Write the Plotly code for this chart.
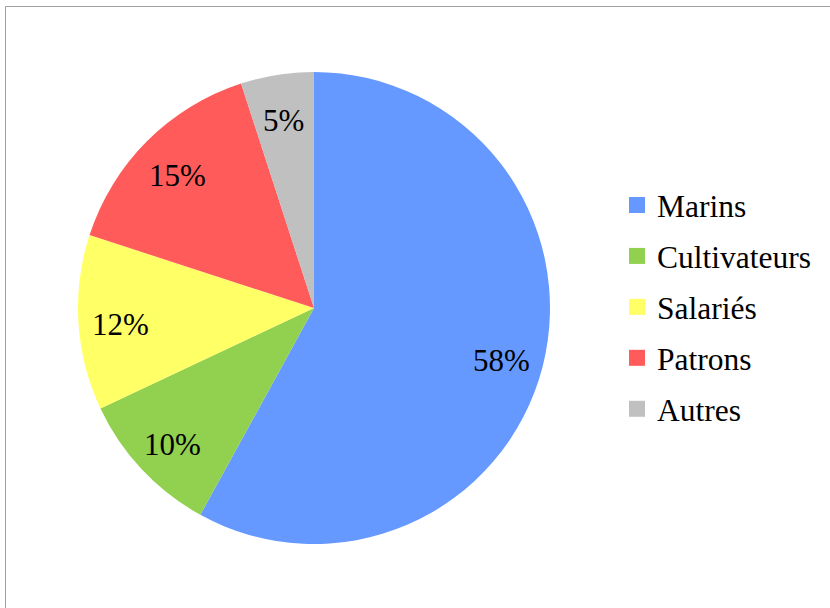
import math
import plotly.graph_objects as go

categories = ["Marins", "Cultivateurs", "Salariés", "Patrons", "Autres"]
values = [58, 10, 12, 15, 5]
colors = ["#6699FF", "#92D050", "#FFFF66", "#FF5B5B", "#C0C0C0"]

FONT = "Liberation Serif, Times New Roman, Times, serif"
W, H = 830, 608
CX, CY, R = 314, 308, 236  # pie centre/radius in pixels

fig = go.Figure()
fig.add_trace(go.Pie(
    labels=categories, values=values, sort=False, direction="clockwise",
    rotation=0, marker=dict(colors=colors, line=dict(width=0)),
    textinfo="none", showlegend=False, hoverinfo="label+percent",
    domain=dict(x=[(CX - R) / W, (CX + R) / W],
                y=[(H - CY - R) / H, (H - CY + R) / H]),
))

# percentage labels placed at mid-angle of each slice (Excel-like)
total = sum(values)
cum = 0
for v in values:
    mid = (cum + v / 2) / total * 2 * math.pi
    cum += v
    r = 0.82 * R
    px = CX + r * math.sin(mid)
    py = CY - r * math.cos(mid)
    fig.add_annotation(x=px / W, y=1 - py / H, xref="paper", yref="paper",
                       text=f"{round(v / total * 100)}%", showarrow=False,
                       font=dict(family=FONT, size=31, color="black"),
                       xanchor="center", yanchor="middle", yshift=-4)

for name, col in zip(categories, colors):
    fig.add_trace(go.Scatter(
        x=[None], y=[None], mode="markers", name=name, legendgroup=name,
        marker=dict(symbol="square", size=16, color=col),
    ))

fig.add_shape(type="rect", xref="paper", yref="paper",
              x0=5.5 / W, x1=1.2, y0=-0.2, y1=(H - 6.5) / H,
              line=dict(color="#A0A0A0", width=1), fillcolor="rgba(0,0,0,0)")

fig.update_layout(
    width=W, height=H,
    margin=dict(l=0, r=0, t=0, b=0),
    paper_bgcolor="white", plot_bgcolor="white",
    xaxis=dict(visible=False), yaxis=dict(visible=False),
    legend=dict(x=617 / W, xanchor="left", y=(H - 178) / H, yanchor="top",
                font=dict(family=FONT, size=31.5, color="black"),
                tracegroupgap=7, bgcolor="rgba(0,0,0,0)"),
)

fig.write_html("out.html", config={"displayModeBar": False},
               post_script="document.body.style.margin='0';")
